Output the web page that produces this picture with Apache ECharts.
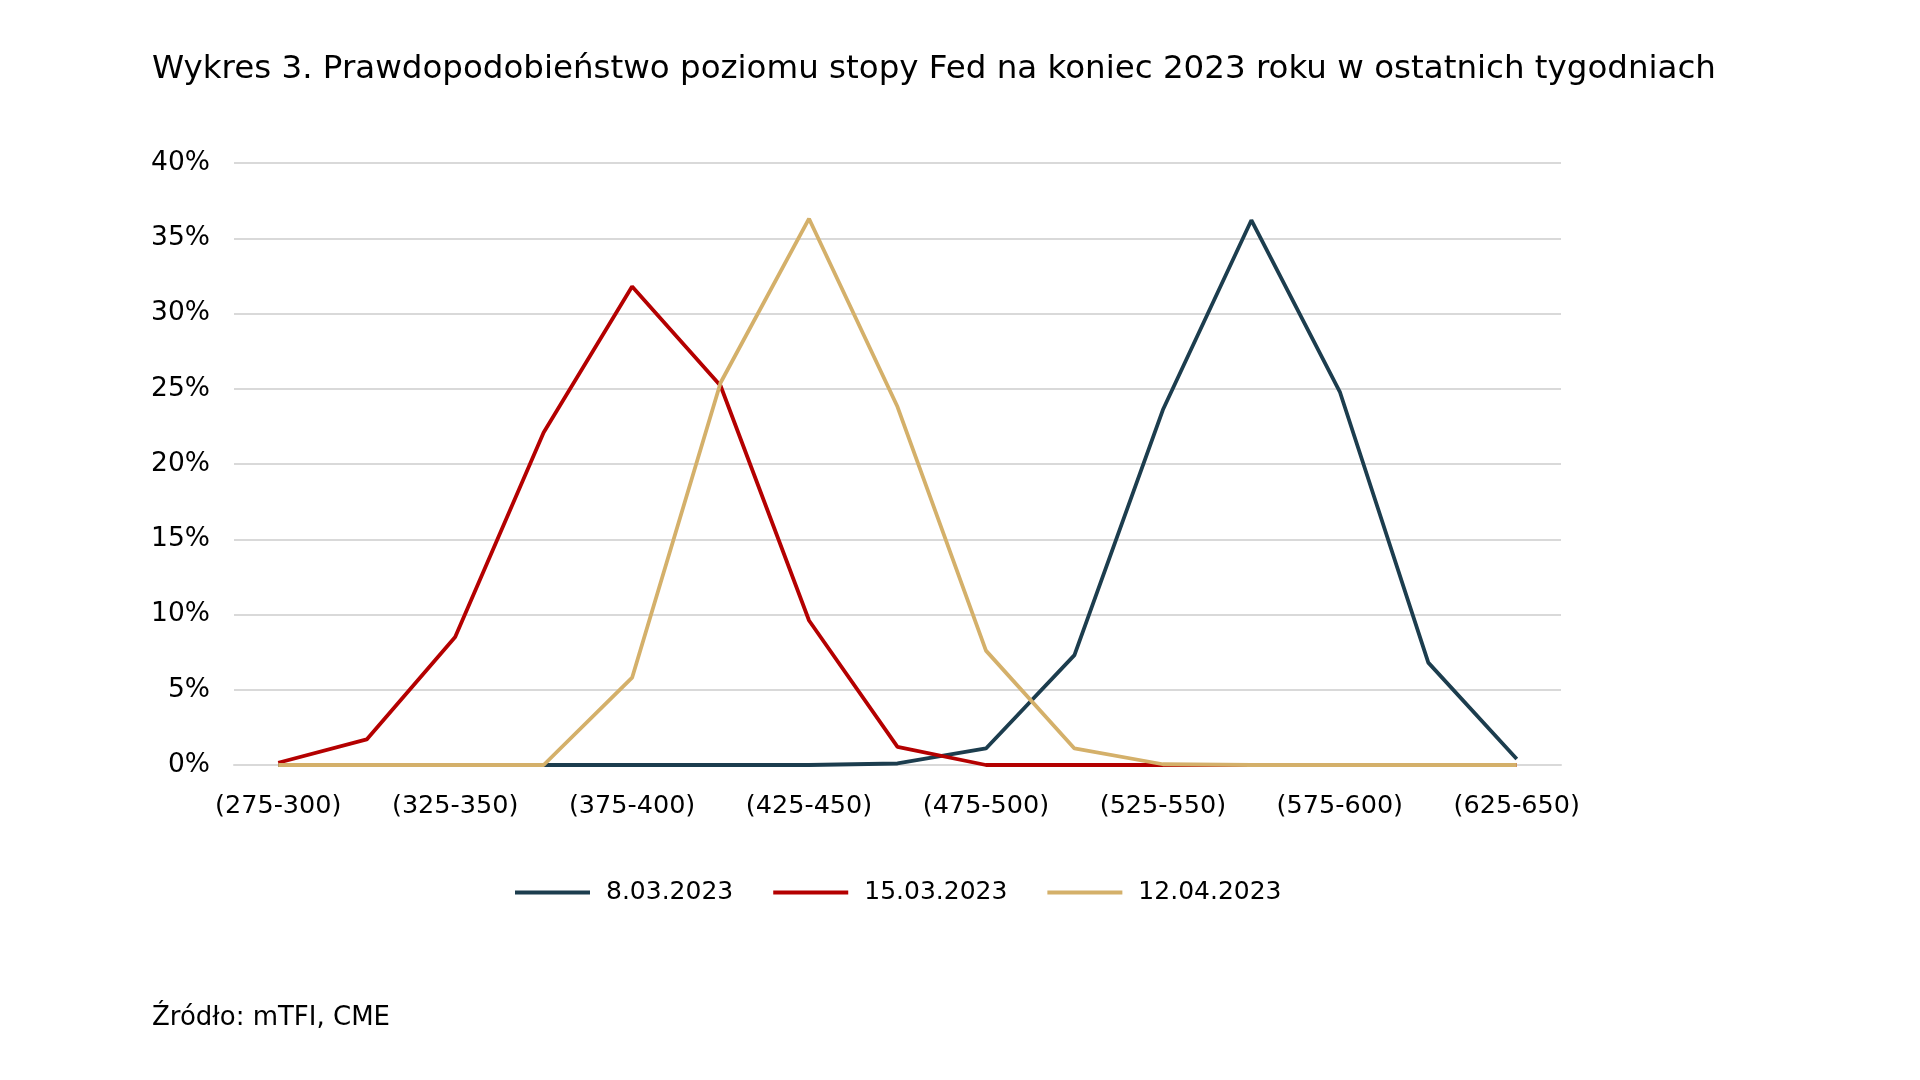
<!DOCTYPE html>
<html>
<head>
<meta charset="utf-8">
<script src="https://cdn.jsdelivr.net/npm/echarts@6/dist/echarts.min.js"></script>
<style>
html,body{margin:0;padding:0;background:#fff;}
#chart{width:1920px;height:1080px;}
</style>
</head>
<body>
<div id="chart"></div>
<script>
const categories = ['(275-300)','(300-325)','(325-350)','(350-375)','(375-400)','(400-425)','(425-450)','(450-475)','(475-500)','(500-525)','(525-550)','(550-575)','(575-600)','(600-625)','(625-650)'];
const s0803 = [0, 0, 0, 0, 0, 0, 0, 0.1, 1.1, 7.3, 23.6, 36.2, 24.8, 6.8, 0.4];
const s1503 = [0.15, 1.7, 8.5, 22.1, 31.8, 25.2, 9.6, 1.2, 0, 0, 0, 0, 0, 0, 0];
const s1204 = [0, 0, 0, 0, 5.8, 25.4, 36.3, 23.8, 7.6, 1.1, 0.05, 0, 0, 0, 0];
const seriesNames = ['8.03.2023', '15.03.2023', '12.04.2023'];
const yTicks = [0, 5, 10, 15, 20, 25, 30, 35, 40];

const FONT = 'DejaVu Sans';
const chart = echarts.init(document.getElementById('chart'));
const colors = ['#1c3d4e', '#b40000', '#d4b06a'];
chart.setOption({
  animation: false,
  backgroundColor: '#fff',
  color: colors,
  textStyle: {fontFamily: FONT, color: '#000'},
  title: [{
    text: 'Wykres 3. Prawdopodobieństwo poziomu stopy Fed na koniec 2023 roku w ostatnich tygodniach',
    left: 147, top: 48,
    textStyle: {fontFamily: FONT, fontSize: 32.5, fontWeight: 'normal', color: '#000'}
  }, {
    text: 'Źródło: mTFI, CME',
    left: 147, top: 1000,
    textStyle: {fontFamily: FONT, fontSize: 26, fontWeight: 'normal', color: '#000'}
  }],
  legend: {
    data: seriesNames,
    left: 510,
    top: 875,
    itemWidth: 75,
    itemHeight: 4,
    itemGap: 40,
    icon: 'rect',
    textStyle: {fontFamily: FONT, fontSize: 25, color: '#000', padding: [0, 0, 0, 11]}
  },
  grid: {left: 234, right: 359, top: 163, bottom: 315, containLabel: false},
  xAxis: {
    type: 'category',
    data: categories,
    boundaryGap: true,
    axisLine: {lineStyle: {color: '#d9d9d9', width: 2}},
    axisTick: {show: false},
    axisLabel: {interval: 1, margin: 28, fontFamily: FONT, fontSize: 25.5, color: '#000'}
  },
  yAxis: {
    type: 'value',
    min: yTicks[0], max: yTicks[yTicks.length - 1], interval: 5,
    axisLine: {show: false},
    axisTick: {show: false},
    splitLine: {lineStyle: {color: '#d9d9d9', width: 2}},
    axisLabel: {margin: 24, fontFamily: FONT, fontSize: 26.5, color: '#000', formatter: v => v + '%'}
  },
  series: [s0803, s1503, s1204].map((d, i) => ({
    name: seriesNames[i],
    type: 'line',
    data: d,
    symbol: 'none',
    lineStyle: {width: 3.8, color: colors[i]},
    itemStyle: {color: colors[i]}
  }))
});
</script>
</body>
</html>
